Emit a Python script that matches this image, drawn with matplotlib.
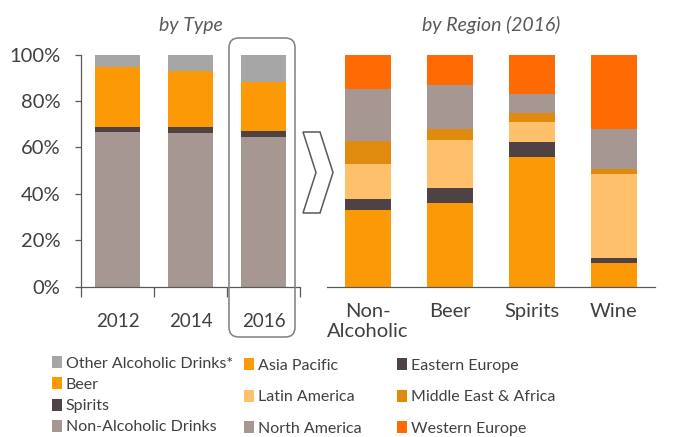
import numpy as np
import matplotlib
matplotlib.use("Agg")
import matplotlib.pyplot as plt
from matplotlib.patches import FancyBboxPatch, Polygon

plt.rcParams["font.family"] = ["Lato", "DejaVu Sans"]

# share of volume by type (%)
years = ["2012", "2014", "2016"]
non_alcoholic = [66.5, 66.3, 64.6]
spirits = [2.4, 2.5, 2.3]
beer = [25.6, 24.1, 21.1]
other_alcoholic = [5.5, 7.1, 12.0]

# 2016 split by region (%)
drink_types = ["Non-\nAlcoholic", "Beer", "Spirits", "Wine"]
asia_pacific = [33.0, 35.9, 55.7, 10.1]
eastern_europe = [4.8, 6.6, 6.8, 2.2]
latin_america = [15.1, 20.5, 8.4, 36.3]
middle_east_africa = [9.8, 4.8, 3.9, 2.1]
north_america = [22.3, 19.2, 8.0, 17.3]
western_europe = [15.0, 13.0, 17.2, 32.0]

C_GREY = "#a6a6a6"
C_ORANGE = "#fb9a06"
C_DARK = "#4e4244"
C_MAUVE = "#a69792"
C_LIGHT = "#fec06a"
C_AMBER = "#e08b0e"
C_RED = "#fd6b02"
TXT = "#404040"

W, H = 688, 437
fig = plt.figure(figsize=(W / 100, H / 100), dpi=100)


def frac(x0, y0, x1, y1):
    # pixel box (from top-left) -> figure fraction rect
    return [x0 / W, 1 - y1 / H, (x1 - x0) / W, (y1 - y0) / H]


# ---- left: by type ----
ax1 = fig.add_axes(frac(81, 54.5, 300, 286.5))
x = np.arange(len(years))
type_series = [
    ("Non-Alcoholic Drinks", non_alcoholic, C_MAUVE),
    ("Spirits", spirits, C_DARK),
    ("Beer", beer, C_ORANGE),
    ("Other Alcoholic Drinks*", other_alcoholic, C_GREY),
]
bottom = np.zeros(len(years))
type_bars = []
for name, vals, col in type_series:
    b = ax1.bar(x, vals, 0.62, bottom=bottom, color=col, label=name, linewidth=0)
    type_bars.append(b)
    bottom += np.array(vals)

ax1.set_xlim(-0.5, 2.5)
ax1.set_ylim(0, 100)
ax1.set_yticks(range(0, 101, 20))
ax1.set_yticklabels([f"{v}%" for v in range(0, 101, 20)])
ax1.set_xticks([-0.5, 0.5, 1.5, 2.5])
ax1.set_xticklabels([])
ax1.set_xticks(x, minor=True)
ax1.set_xticklabels(years, minor=True)
for s in ["top", "right"]:
    ax1.spines[s].set_visible(False)
for s in ["left", "bottom"]:
    ax1.spines[s].set_color("#595959")
    ax1.spines[s].set_linewidth(0.9)
ax1.tick_params(axis="y", length=4, width=0.9, color="#595959", pad=11,
                labelsize=14.5, labelcolor=TXT)
ax1.tick_params(axis="x", which="major", length=7, width=0.9, color="#595959",
                direction="out")
ax1.tick_params(axis="x", which="minor", length=0, pad=19, labelsize=13.5,
                labelcolor=TXT)
ax1.set_title("by Type", fontsize=14, style="italic", color="#595959", pad=17)

# ---- right: by region ----
ax2 = fig.add_axes(frac(327, 54.5, 655, 286.5))
xr = np.arange(len(drink_types))
region_series = [
    ("Asia Pacific", asia_pacific, C_ORANGE),
    ("Eastern Europe", eastern_europe, C_DARK),
    ("Latin America", latin_america, C_LIGHT),
    ("Middle East & Africa", middle_east_africa, C_AMBER),
    ("North America", north_america, C_MAUVE),
    ("Western Europe", western_europe, C_RED),
]
bottom = np.zeros(len(drink_types))
region_bars = {}
for name, vals, col in region_series:
    region_bars[name] = ax2.bar(xr, vals, 0.56, bottom=bottom, color=col,
                                label=name, linewidth=0)
    bottom += np.array(vals)

ax2.set_xlim(-0.5, 3.5)
ax2.set_ylim(0, 100)
ax2.set_yticks([])
ax2.set_xticks(xr)
ax2.set_xticklabels(drink_types, linespacing=1.2)
for s in ["top", "right", "left"]:
    ax2.spines[s].set_visible(False)
ax2.spines["bottom"].set_color("#595959")
ax2.spines["bottom"].set_linewidth(0.9)
ax2.tick_params(axis="x", length=0, pad=12, labelsize=14.5, labelcolor=TXT)
ax2.set_title("by Region (2016)", fontsize=14, style="italic", color="#595959",
              pad=17)

# rounded highlight around the 2016 column
x0, y0, x1, y1 = 229, 38, 295, 337
box = FancyBboxPatch((x0 / W, 1 - y1 / H), (x1 - x0) / W, (y1 - y0) / H,
                     boxstyle="round,pad=0,rounding_size=0.014",
                     transform=fig.transFigure, facecolor="none",
                     edgecolor="#7f7f7f", linewidth=1.1, mutation_aspect=W / H)
fig.add_artist(box)

# chevron linking the two panels
chev_px = [(303, 132), (320, 132), (333, 172.5), (320, 213), (303, 213), (316, 172.5)]
chev = Polygon([(px / W, 1 - py / H) for px, py in chev_px], closed=True,
               transform=fig.transFigure, facecolor="white",
               edgecolor="#595959", linewidth=1.1)
fig.add_artist(chev)

# legends
leg_kw = dict(frameon=False, fontsize=11.5, handlelength=0.62, handleheight=0.78,
              handletextpad=0.25, borderpad=0, borderaxespad=0, labelcolor=TXT,
              loc="upper left")
fig.legend([type_bars[3], type_bars[2], type_bars[1], type_bars[0]],
           ["Other Alcoholic Drinks*", "Beer", "Spirits", "Non-Alcoholic Drinks"],
           bbox_to_anchor=(52 / W, 1 - 356 / H), labelspacing=0.42, **leg_kw)
col1 = ["Asia Pacific", "Latin America", "North America"]
col2 = ["Eastern Europe", "Middle East & Africa", "Western Europe"]
fig.legend([region_bars[n] for n in col1], col1,
           bbox_to_anchor=(244 / W, 1 - 358 / H), labelspacing=1.07, **leg_kw)
fig.legend([region_bars[n] for n in col2], col2,
           bbox_to_anchor=(397 / W, 1 - 358 / H), labelspacing=1.07, **leg_kw)

fig.savefig("out.png", dpi=100, facecolor="white")
